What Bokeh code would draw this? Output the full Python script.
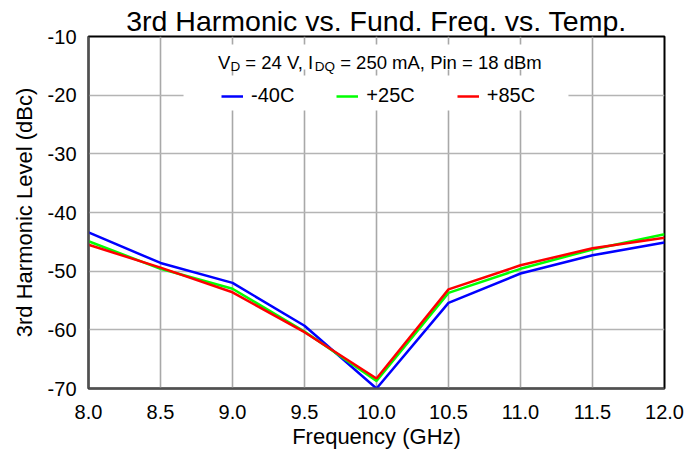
from bokeh.plotting import figure
from bokeh.models import Range1d, FixedTicker, PrintfTickFormatter, Label, BoxAnnotation
from bokeh.embed import file_html
from bokeh.resources import INLINE

# ---- data ----
freq = [8.0, 8.5, 9.0, 9.5, 10.0, 10.5, 11.0, 11.5, 12.0]
temp_m40 = [-43.4, -48.6, -52.0, -59.3, -70.0, -55.4, -50.4, -47.3, -45.1]
temp_p25 = [-44.9, -49.6, -53.0, -60.3, -68.7, -53.7, -49.6, -46.3, -43.7]
temp_p85 = [-45.5, -49.4, -53.6, -60.4, -68.3, -53.1, -49.0, -46.1, -44.3]
series_names = ["-40C", "+25C", "+85C"]
series_colors = ["#0000ff", "#00ff00", "#ff0000"]
x_ticks = [8.0, 8.5, 9.0, 9.5, 10.0, 10.5, 11.0, 11.5, 12.0]
y_ticks = [-70, -60, -50, -40, -30, -20, -10]
title_text = "3rd Harmonic vs. Fund. Freq. vs. Temp."

FONT = "Liberation Sans"

p = figure(width=700, height=455, output_backend="svg", toolbar_location=None,
           x_range=Range1d(8.0, 12.0), y_range=Range1d(-70, -10),
           min_border_left=88, min_border_right=36, min_border_top=36, min_border_bottom=67,
           title=title_text)
p.background_fill_color = "white"
p.border_fill_color = "white"
p.outline_line_color = "black"
p.outline_line_width = 2

p.title.text_font = FONT
p.title.text_font_size = "28.5px"
p.title.text_font_style = "normal"
p.title.text_color = "black"
p.title.align = "center"
p.title.standoff = 0

# grids
p.xgrid.grid_line_color = "#a8a8a8"
p.ygrid.grid_line_color = "#b4b4b4"
p.xgrid.grid_line_width = 1.6
p.ygrid.grid_line_width = 1.6

# axes
for ax in (p.xaxis[0], p.yaxis[0]):
    ax.major_tick_in = 0
    ax.major_tick_out = 0
    ax.minor_tick_in = 0
    ax.minor_tick_out = 0
    ax.axis_line_color = "#505050"
    ax.axis_line_width = 2
    ax.major_label_text_font = FONT
    ax.major_label_text_font_size = "20px"
    ax.major_label_text_color = "black"
    ax.axis_label_text_font = FONT
    ax.axis_label_text_font_size = "22px"
    ax.axis_label_text_font_style = "normal"
    ax.axis_label_text_color = "black"

p.xaxis.ticker = FixedTicker(ticks=x_ticks)
p.xaxis.formatter = PrintfTickFormatter(format="%.1f")
p.yaxis.ticker = FixedTicker(ticks=y_ticks)
p.yaxis.formatter = PrintfTickFormatter(format="%d")
p.xaxis.major_label_standoff = 16
p.yaxis.major_label_standoff = 12
p.xaxis.axis_label = "Frequency (GHz)"
p.yaxis.axis_label = "3rd Harmonic Level (dBc)"
p.xaxis.axis_label_standoff = 2
p.yaxis.axis_label_standoff = 8

# white boxes behind subtitle and legend
p.add_layout(BoxAnnotation(left=8.833, right=11.194, top=-11.36, bottom=-15.62,
                           fill_color="white", fill_alpha=1.0, line_color=None))
p.add_layout(BoxAnnotation(left=8.660, right=11.333, top=-16.65, bottom=-22.61,
                           fill_color="white", fill_alpha=1.0, line_color=None))

# subtitle with subscripts (no leading spaces: SVG collapses them)
MAIN, SUB = 18.5, 13.5
pieces = [("V", MAIN, 0, 0.667 * MAIN, 0.0),
          ("D", SUB, -4, 0.722 * SUB, 0.0),
          ("= 24 V, I", MAIN, 0, 3.753 * MAIN, 0.278 * MAIN),
          ("DQ", SUB, -4, 1.5 * SUB, 0.0),
          ("= 250 mA, Pin = 18 dBm", MAIN, 0, 10.9 * MAIN, 0.278 * MAIN)]
xoff = 0.0
for txt, size, dy, w, lead in pieces:
    xoff += lead
    p.add_layout(Label(x=8.9, y=-10, x_offset=xoff, y_offset=-26 + dy, text=txt,
                       text_align="left", text_baseline="alphabetic",
                       text_font=FONT, text_font_size=f"{size}px", text_color="black"))
    xoff += w

# data lines
for ys, name, col in zip([temp_m40, temp_p25, temp_p85], series_names, series_colors):
    p.line(freq, ys, line_color=col, line_width=2.5, legend_label=name)

leg = p.legend[0]
leg.orientation = "horizontal"
leg.location = (133, 281)
leg.background_fill_alpha = 0
leg.border_line_color = None
leg.padding = 6
leg.spacing = 42
leg.glyph_width = 22
leg.label_standoff = 8
leg.label_text_font = FONT
leg.label_text_font_size = "20px"
leg.label_text_color = "black"
leg.margin = 0

open("out.html", "w").write(file_html(p, INLINE))
